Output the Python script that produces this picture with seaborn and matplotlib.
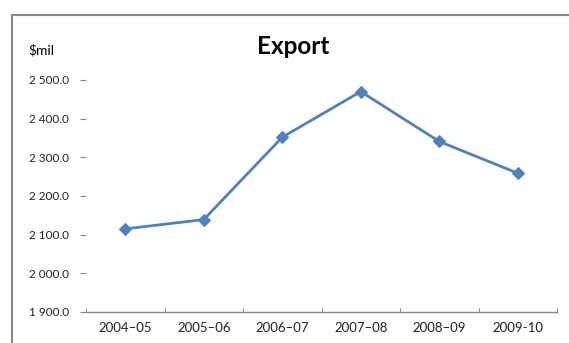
import matplotlib
matplotlib.use("Agg")
import matplotlib.pyplot as plt
import seaborn as sns
from matplotlib.ticker import FuncFormatter, MultipleLocator
from matplotlib.lines import Line2D

years = ["2004–05", "2005–06", "2006–07", "2007–08", "2008–09", "2009-10"]
exports = [2115, 2139, 2352, 2470, 2341, 2259]
y_ticks = [1900, 2000, 2100, 2200, 2300, 2400, 2500]

sns.set_style("white")
plt.rcParams['font.family'] = ['Lato', 'DejaVu Sans']

fig = plt.figure(figsize=(5.69, 3.43), dpi=100)
ax = fig.add_axes([86/569, 1 - 312/343, (557 - 86)/569, (312 - 80)/343])

sns.lineplot(x=years, y=exports, ax=ax, color="#4F81BD", linewidth=2,
             marker="D", markersize=6, markeredgecolor="#4F81BD", sort=False)

ax.set_xlim(-0.5, 5.5)
ax.set_ylim(1900, 2500)
ax.set_yticks(y_ticks)
ax.yaxis.set_major_formatter(FuncFormatter(lambda v, p: f"{v:,.1f}".replace(",", " ")))
ax.xaxis.set_minor_locator(MultipleLocator(1, offset=0.5))
ax.set_xlabel("")
ax.set_ylabel("")

for s in ["top", "right", "left"]:
    ax.spines[s].set_visible(False)
ax.spines["bottom"].set_color("#888888")
ax.spines["bottom"].set_linewidth(1)

ax.tick_params(axis="y", which="major", left=True, length=4, width=0.8, color="#888888",
               pad=8, labelsize=8.5, labelcolor="#222222")
ax.tick_params(axis="x", which="major", bottom=False, length=0, pad=7, labelsize=9.5,
               labelcolor="#222222")
ax.tick_params(axis="x", which="minor", bottom=True, direction="in", length=3,
               width=0.8, color="#888888")

fig.text(293/569, 1 - 46/343, "Export", ha="center", va="center",
         fontsize=17.5, fontweight="bold", color="black")
fig.text(28/569, 1 - 50/343, "$mil", ha="left", va="center", fontsize=10, color="black")

fig.add_artist(Line2D([12/569, 12/569], [0, 1 - 15/343], transform=fig.transFigure,
                      color="#888888", linewidth=1.5))
fig.add_artist(Line2D([12/569, 1], [1 - 15/343, 1 - 15/343], transform=fig.transFigure,
                      color="#888888", linewidth=1.5))

fig.savefig("out.png", dpi=100)
